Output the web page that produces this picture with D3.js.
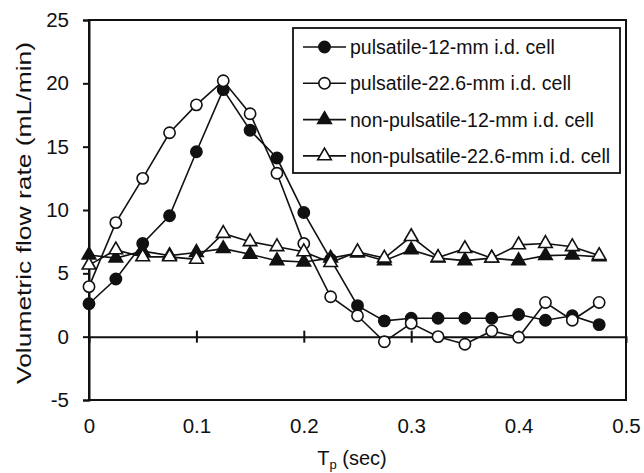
<!DOCTYPE html>
<html>
<head>
<meta charset="utf-8">
<script src="https://cdn.jsdelivr.net/npm/d3@7"></script>
<style>
  body { margin: 0; background: #fff; }
  text { font-family: "Liberation Sans", Arial, sans-serif; fill: #111; }
</style>
</head>
<body>
<svg id="chart"></svg>
<script>
// Time points (sec)
var tp = [0, 0.025, 0.05, 0.075, 0.1, 0.125, 0.15, 0.175, 0.2, 0.225,
          0.25, 0.275, 0.3, 0.325, 0.35, 0.375, 0.4, 0.425, 0.45, 0.475];

// Flow rates (mL/min)
var puls12   = [2.6, 4.55, 7.35, 9.55, 14.6, 19.5, 16.3, 14.1, 9.8, 6.1,
                2.45, 1.25, 1.45, 1.45, 1.45, 1.45, 1.75, 1.3, 1.65, 0.95];
var puls226  = [3.95, 9.0, 12.5, 16.1, 18.3, 20.2, 17.6, 12.9, 7.35, 3.15,
                1.65, -0.4, 1.05, 0.0, -0.6, 0.45, -0.05, 2.7, 1.3, 2.7];
var npuls12  = [6.45, 6.2, 6.75, 6.4, 6.65, 6.95, 6.5, 6.0, 5.9, 6.2,
                6.6, 6.0, 6.85, 6.2, 6.0, 6.2, 6.0, 6.4, 6.45, 6.3];
var npuls226 = [5.65, 6.85, 6.3, 6.3, 6.1, 8.15, 7.5, 7.1, 6.7, 5.85,
                6.7, 6.2, 7.9, 6.25, 6.95, 6.2, 7.25, 7.35, 7.1, 6.4];

var seriesNames = ["pulsatile-12-mm i.d. cell", "pulsatile-22.6-mm i.d. cell",
                   "non-pulsatile-12-mm i.d. cell", "non-pulsatile-22.6-mm i.d. cell"];
var xTicks = [0, 0.1, 0.2, 0.3, 0.4, 0.5];
var yTicks = [-5, 0, 5, 10, 15, 20, 25];

const W = 644, H = 473;
const margin = {top: 20, right: 18, bottom: 73, left: 89};

var svg = d3.select("#chart").attr("width", W).attr("height", H);

var x = d3.scaleLinear().domain([0, 0.5]).range([margin.left, W - margin.right]);
var y = d3.scaleLinear().domain([-5, 25]).range([H - margin.bottom, margin.top]);

// Plot frame
svg.append("rect")
    .attr("x", x(0)).attr("y", y(25))
    .attr("width", x(0.5) - x(0)).attr("height", y(-5) - y(25))
    .attr("fill", "none").attr("stroke", "#111").attr("stroke-width", 2);

// Y axis (ticks outward), plain hyphen for negatives like the original
var yAxis = svg.append("g")
    .attr("transform", "translate(" + x(0) + ",0)")
    .call(d3.axisLeft(y).tickValues(yTicks).tickSize(6).tickPadding(14).tickFormat(String));
yAxis.select(".domain").attr("stroke", "#111").attr("stroke-width", 2);
yAxis.selectAll(".tick line").attr("stroke", "#111").attr("stroke-width", 2);
yAxis.selectAll("text").style("font-size", "20.5px").attr("fill", "#111");

// Zero line with crossing ticks
var zeroAxis = svg.append("g")
    .attr("transform", "translate(0," + y(0) + ")")
    .call(d3.axisBottom(x).tickValues(xTicks.slice(1, 5)).tickSize(6).tickFormat(""));
zeroAxis.select(".domain").attr("stroke", "#111").attr("stroke-width", 2);
zeroAxis.selectAll(".tick line").attr("y1", -6).attr("stroke", "#111").attr("stroke-width", 2);

// X tick labels along the bottom
var xAxis = svg.append("g")
    .attr("transform", "translate(0," + y(-5) + ")")
    .call(d3.axisBottom(x).tickValues(xTicks).tickSize(0).tickPadding(18).tickFormat(String));
xAxis.select(".domain").remove();
xAxis.selectAll("text").style("font-size", "20.5px").attr("fill", "#111");

// Axis titles
var xt = svg.append("text")
    .attr("x", 352).attr("y", 465)
    .attr("text-anchor", "middle")
    .style("font-size", "20px");
xt.append("tspan").text("T");
xt.append("tspan").attr("dy", 4).style("font-size", "13px").text("p");
xt.append("tspan").attr("dy", -4).text(" (sec)");

svg.append("text")
    .attr("transform", "translate(31,213) rotate(-90)")
    .attr("text-anchor", "middle")
    .attr("textLength", 342)
    .attr("lengthAdjust", "spacingAndGlyphs")
    .style("font-size", "20.5px")
    .text("Volumetric flow rate (mL/min)");

// Series
var series = [
  {name: seriesNames[0], vals: puls12,   shape: "circle",   fill: "#111"},
  {name: seriesNames[1], vals: puls226,  shape: "circle",   fill: "#fff"},
  {name: seriesNames[2], vals: npuls12,  shape: "triangle", fill: "#111"},
  {name: seriesNames[3], vals: npuls226, shape: "triangle", fill: "#fff"}
];

var line = d3.line().x(function(d) { return x(d[0]); }).y(function(d) { return y(d[1]); });
var circleSym = d3.symbol().type(d3.symbolCircle).size(100);
var triSym = d3.symbol().type(d3.symbolTriangle).size(80);

function marker(g, s, px, py) {
  g.append("path")
      .attr("d", s.shape === "circle" ? circleSym() : triSym())
      .attr("transform", "translate(" + px + "," + py + ")")
      .attr("fill", s.fill)
      .attr("stroke", "#111")
      .attr("stroke-width", 1.6);
}

series.forEach(function(s) {
  var pts = tp.map(function(t, i) { return [t, s.vals[i]]; });
  var g = svg.append("g");
  g.append("path")
      .datum(pts)
      .attr("d", line)
      .attr("fill", "none")
      .attr("stroke", "#111")
      .attr("stroke-width", 1.6);
  pts.forEach(function(p) { marker(g, s, x(p[0]), y(p[1])); });
});

// Legend
var lg = svg.append("g");
lg.append("rect")
    .attr("x", 293).attr("y", 28).attr("width", 327).attr("height", 145)
    .attr("fill", "#fff").attr("stroke", "#111").attr("stroke-width", 1.8);
series.forEach(function(s, i) {
  var ly = 47 + i * 36.3;
  lg.append("line")
      .attr("x1", 303).attr("x2", 346).attr("y1", ly).attr("y2", ly)
      .attr("stroke", "#111").attr("stroke-width", 1.6);
  marker(lg, s, 324.5, ly);
  lg.append("text")
      .attr("x", 350).attr("y", ly + 7)
      .style("font-size", "19.5px")
      .text(s.name);
});
</script>
</body>
</html>
